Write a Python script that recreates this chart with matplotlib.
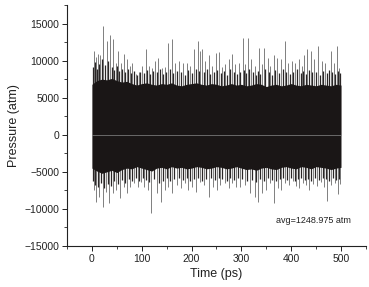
import matplotlib
matplotlib.use("Agg")
import matplotlib.pyplot as plt
from matplotlib.ticker import MultipleLocator

# ---- data ----
core_t = [0, 10, 20, 30, 40, 50, 60, 70, 80, 90, 100, 110, 120, 130, 140, 150, 160, 170,
          180, 190, 200, 210, 220, 230, 240, 250, 260, 270, 280, 290, 300, 310, 320, 330,
          340, 350, 360, 370, 380, 390, 400, 410, 420, 430, 440, 450, 460, 470, 480, 490, 500]
core_hi = [6800, 7300, 7500, 7400, 7600, 7300, 7100, 7200, 6900, 6700, 6900, 7000, 6800,
           6700, 6900, 6800, 7000, 6700, 6600, 6800, 6900, 7000, 6800, 6700, 6900, 6800,
           6600, 6700, 6900, 6700, 6800, 6600, 6700, 6900, 6800, 6500, 6700, 6800, 6600,
           6700, 6900, 6700, 6600, 6800, 6700, 6600, 6800, 6700, 6600, 6800, 6700]
core_lo = [-4500, -4900, -5200, -5000, -4800, -5100, -4700, -4500, -4600, -4300, -4500,
           -4700, -4900, -4500, -4400, -4600, -4300, -4500, -4400, -4600, -4500, -4300,
           -4400, -4600, -4500, -4300, -4400, -4600, -4500, -4300, -4500, -4700, -4600,
           -4800, -4500, -4400, -4600, -4700, -4400, -4300, -4500, -4600, -4300, -4400,
           -4600, -4300, -4400, -4500, -4700, -4500, -4400]

up_t = [4, 9, 13, 17, 23, 30, 37, 43, 48, 53, 58, 64, 71, 76, 81, 88, 94, 101, 109, 114,
        120, 127, 133, 140, 146, 152, 160, 167, 175, 183, 190, 197, 205, 212, 217, 221,
        228, 235, 242, 249, 256, 262, 268, 275, 281, 288, 295, 303, 308, 313, 320, 327,
        336, 341, 345, 353, 358, 365, 372, 379, 387, 394, 401, 408, 416, 421, 426, 432,
        439, 446, 454, 461, 468, 479, 485, 491, 496]
up_v = [11340, 10500, 10900, 10800, 14700, 12700, 13500, 12950, 9700, 11340, 9700, 10900,
        10270, 9300, 9700, 8250, 8500, 9330, 11600, 9330, 9000, 9950, 10400, 9000, 9200,
        12400, 12950, 9700, 9950, 9700, 9700, 9300, 11600, 12700, 11340, 11600, 9950,
        10800, 9300, 11070, 11200, 9200, 9500, 10270, 10900, 9500, 9700, 13100, 9500,
        13100, 10270, 9300, 11750, 9500, 11700, 10400, 9300, 10800, 10400, 10270, 12700,
        9700, 9950, 9700, 10270, 9300, 10800, 11600, 11340, 10270, 12000, 9950, 9700,
        11340, 9700, 12000, 9000]

mid_up_t = [2, 6, 11, 15, 20, 26, 33, 40, 45, 50, 55, 61, 67, 73, 79, 84, 91, 97, 104, 111,
            117, 123, 130, 136, 143, 149, 156, 163, 170, 178, 186, 193, 200, 208, 214, 224,
            231, 238, 245, 252, 259, 265, 271, 278, 285, 291, 298, 305, 310, 316, 323, 330,
            333, 338, 348, 355, 362, 368, 375, 383, 390, 397, 404, 412, 419, 423, 429, 436,
            442, 450, 457, 464, 472, 476, 482, 488, 494, 499]
mid_up_v = [9200, 9800, 8900, 9600, 10200, 9400, 9900, 9100, 8700, 9300, 8600, 8900, 8400,
            8800, 8300, 8600, 8100, 8500, 8300, 8700, 8200, 8600, 8400, 8900, 8200, 8500,
            8800, 8300, 8600, 8400, 8100, 8700, 8300, 8900, 8600, 8400, 8800, 8200, 8500,
            8700, 8300, 8600, 8100, 8800, 8400, 8200, 8500, 8700, 8300, 8900, 8400, 8100,
            8600, 8200, 8800, 8400, 8100, 8700, 8300, 8900, 8500, 8200, 8400, 8800, 8300,
            8600, 8200, 8700, 8400, 8500, 8100, 8600, 8300, 8700, 8400, 8200, 8600, 8300]

lo_t = [4, 9, 15, 22, 29, 35, 42, 49, 57, 64, 71, 77, 85, 92, 99, 105, 112, 119, 130, 139,
        147, 153, 161, 170, 179, 187, 193, 200, 208, 217, 225, 235, 243, 251, 258, 267,
        275, 281, 289, 298, 308, 318, 327, 333, 341, 349, 358, 366, 373, 380, 388, 396,
        404, 410, 416, 424, 430, 436, 444, 452, 460, 466, 472, 480, 487, 493, 498]
lo_v = [-7450, -9015, -8340, -9685, -7670, -9240, -7895, -7450, -8570, -7000, -7895, -7000,
        -6550, -7000, -6330, -7000, -7450, -10580, -7895, -9015, -7450, -7000, -7895, -6780,
        -7225, -6550, -7450, -7000, -7670, -6330, -6780, -8340, -7000, -7450, -6780, -6550,
        -7225, -6550, -7000, -7000, -6780, -7895, -8340, -9015, -7895, -7450, -6550, -9240,
        -7225, -7450, -6500, -6800, -6300, -6900, -7200, -6500, -6800, -7450, -6600, -6900,
        -6400, -7000, -9000, -6800, -6500, -8000, -6600]

mid_lo_t = [2, 6, 12, 18, 25, 32, 38, 45, 53, 60, 67, 74, 81, 88, 95, 102, 108, 115, 124,
            134, 143, 150, 157, 165, 174, 183, 190, 196, 204, 212, 221, 230, 239, 247, 255,
            262, 271, 278, 285, 293, 302, 312, 322, 330, 337, 345, 353, 362, 370, 377, 384,
            392, 400, 407, 413, 420, 427, 433, 440, 448, 456, 463, 469, 476, 484, 490, 496]
mid_lo_v = [-6200, -6800, -7000, -6500, -7200, -6600, -6900, -6300, -6700, -6100, -6500,
            -6000, -6300, -5900, -6200, -5800, -6100, -6400, -6000, -6500, -6200, -5900,
            -6300, -6000, -5800, -6100, -5900, -6300, -6000, -5800, -6200, -6000, -5900,
            -6100, -5800, -6000, -6200, -5900, -6100, -5800, -6000, -6300, -6100, -6400,
            -6000, -6200, -5900, -6100, -6300, -6000, -5800, -6100, -5900, -6200, -6000,
            -5800, -6100, -6000, -6200, -5900, -6100, -5800, -6000, -6200, -5900, -6100,
            -6000]

ref_line_t = [0, 500]
ref_line_v = [0, 0]
avg_text = "avg=1248.975 atm"

plt.rcParams['font.family'] = ['Liberation Sans', 'DejaVu Sans']

fig = plt.figure(figsize=(3.69, 2.87), dpi=100)
ax = fig.add_axes([0.1816, 0.143, 0.810, 0.8396])

ax.fill_between(core_t, core_lo, core_hi, color='#1a1616', linewidth=0, zorder=3)
ax.vlines(mid_up_t, 0, mid_up_v, colors='#2a2626', linewidth=0.9, zorder=2)
ax.vlines(mid_lo_t, mid_lo_v, 0, colors='#2a2626', linewidth=0.9, zorder=2)
ax.vlines(up_t, 0, up_v, colors='#6a6a6a', linewidth=0.6, zorder=1)
ax.vlines(lo_t, lo_v, 0, colors='#6a6a6a', linewidth=0.6, zorder=1)
ax.plot(ref_line_t, ref_line_v, color='#8a8a8a', linewidth=0.5, zorder=4)

ax.set_xlim(-50, 550)
ax.set_ylim(-15000, 17500)
ax.xaxis.set_minor_locator(MultipleLocator(50))
ax.yaxis.set_minor_locator(MultipleLocator(2500))
ax.set_xticks(range(0, 501, 100))
ax.set_yticks(range(-15000, 15001, 5000))

for s in ['top', 'right']:
    ax.spines[s].set_visible(False)
for s in ['left', 'bottom']:
    ax.spines[s].set_linewidth(0.8)
    ax.spines[s].set_color('#222222')

ax.tick_params(which='major', direction='out', length=3.5, width=0.7, labelsize=7.5,
               colors='#222222', pad=2)
ax.tick_params(which='minor', direction='out', length=2, width=0.6, colors='#222222')

ax.set_xlabel('Time (ps)', fontsize=9, color='#222222', labelpad=3)
ax.set_ylabel('Pressure (atm)', fontsize=9, color='#222222', labelpad=3)

ax.text(444, -11500, avg_text, fontsize=6.5, ha='center', va='center', color='#222222')

fig.savefig('out.png', dpi=100)
